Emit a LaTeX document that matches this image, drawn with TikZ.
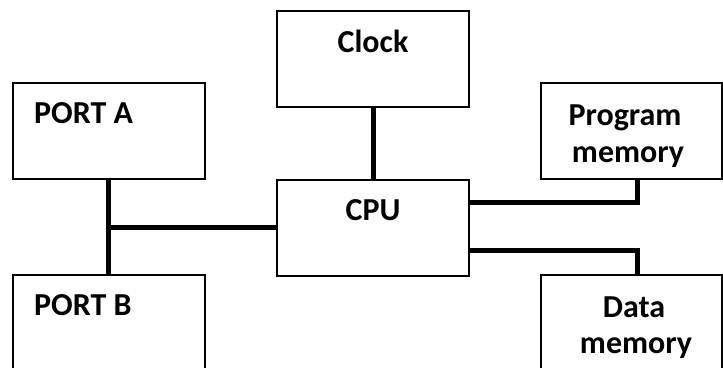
\documentclass[tikz,border=0pt]{standalone}
\usepackage{fontspec}
\setmainfont{Carlito}
\begin{document}
\begin{tikzpicture}[x=1bp,y=-1bp,
  box/.style={draw,line width=2bp,rectangle},
  bus/.style={line width=5bp},
  lbl/.style={font=\bfseries\fontsize{32bp}{37bp}\selectfont,inner sep=0pt}]
\useasboundingbox (0,0) rectangle (723,367);
\clip (0,0) rectangle (723,367);
% boxes
\draw[box] (12.5,83) rectangle (205,179);
\draw[box] (277,11) rectangle (469,107);
\draw[box] (277,180) rectangle (469,276);
\draw[box] (541,83) rectangle (721.5,179);
\draw[box] (12.5,275) rectangle (205,400);
\draw[box] (541,275) rectangle (721.5,400);
% named anchor points
\coordinate (paB) at (108,179);
\coordinate (pbT) at (108,275);
\coordinate (pj) at (108,227);
\coordinate (cpuL) at (277,227);
\coordinate (clkB) at (373,107);
\coordinate (cpuT) at (373,180);
\coordinate (cpuR1) at (469,202);
\coordinate (pmB) at (637,179);
\coordinate (cpuR2) at (469,250);
\coordinate (dmT) at (637,275);
% buses
\draw[bus] (paB) -- (pbT);
\draw[bus] (pj) -- (cpuL);
\draw[bus] (clkB) -- (cpuT);
\draw[bus] (cpuR1) -| (pmB);
\draw[bus] (cpuR2) -| (dmT);
% labels
\node[lbl,anchor=base west] (tpa) at (34,123) {PORT A};
\node[lbl,anchor=base] (tclk) at (373,52) {Clock};
\node[lbl,anchor=base] (tcpu) at (373,220) {CPU};
\node[lbl,anchor=base west] (tpb) at (34,315) {PORT B};
\node[lbl,anchor=base] (tpm1) at (625,125) {Program};
\node[lbl,anchor=base] (tpm2) at (628,162) {memory};
\node[lbl,anchor=base] (tdm1) at (634,317) {Data};
\node[lbl,anchor=base] (tdm2) at (636,353) {memory};
\end{tikzpicture}
\end{document}
